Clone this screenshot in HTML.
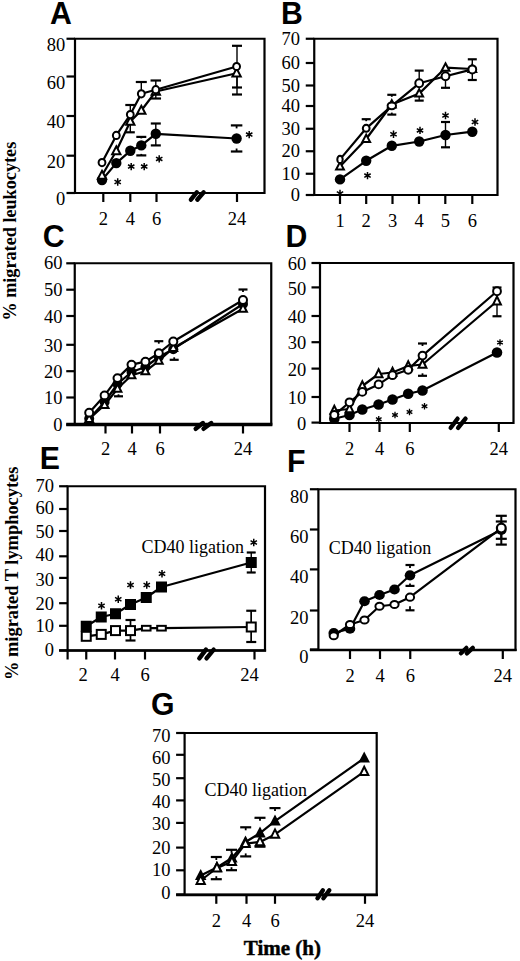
<!DOCTYPE html>
<html><head><meta charset="utf-8"><title>Figure</title>
<style>html,body{margin:0;padding:0;background:#fff;} svg{display:block;}</style></head>
<body><svg width="520" height="961" viewBox="0 0 520 961">
<rect width="520" height="961" fill="#fff"/>
<text transform="translate(50.10,23.70) scale(0.96,1)" font-family="&quot;Liberation Sans&quot;, sans-serif" font-size="31.5" font-weight="bold" text-anchor="start" >A</text>
<path d="M75.00,38.75 L264.50,38.75 L264.50,193.00 L75.00,193.00 Z" fill="none" stroke="#000" stroke-width="2.2"/>
<line x1="66.50" y1="38.75" x2="75.00" y2="38.75" stroke="#000" stroke-width="2.2"/>
<text x="65.30" y="51.15" font-family="&quot;Liberation Serif&quot;, serif" font-size="18.5" font-weight="normal" text-anchor="end" >80</text>
<line x1="66.50" y1="76.50" x2="75.00" y2="76.50" stroke="#000" stroke-width="2.2"/>
<text x="65.30" y="88.90" font-family="&quot;Liberation Serif&quot;, serif" font-size="18.5" font-weight="normal" text-anchor="end" >60</text>
<line x1="66.50" y1="116.00" x2="75.00" y2="116.00" stroke="#000" stroke-width="2.2"/>
<text x="65.30" y="128.40" font-family="&quot;Liberation Serif&quot;, serif" font-size="18.5" font-weight="normal" text-anchor="end" >40</text>
<line x1="66.50" y1="155.70" x2="75.00" y2="155.70" stroke="#000" stroke-width="2.2"/>
<text x="65.30" y="168.10" font-family="&quot;Liberation Serif&quot;, serif" font-size="18.5" font-weight="normal" text-anchor="end" >20</text>
<line x1="66.50" y1="193.00" x2="75.00" y2="193.00" stroke="#000" stroke-width="2.2"/>
<text x="65.30" y="205.40" font-family="&quot;Liberation Serif&quot;, serif" font-size="18.5" font-weight="normal" text-anchor="end" >0</text>
<line x1="103.30" y1="193.00" x2="103.30" y2="202.00" stroke="#000" stroke-width="2.2"/>
<text x="103.30" y="225.00" font-family="&quot;Liberation Serif&quot;, serif" font-size="18.5" font-weight="normal" text-anchor="middle" >2</text>
<line x1="130.30" y1="193.00" x2="130.30" y2="202.00" stroke="#000" stroke-width="2.2"/>
<text x="130.30" y="225.00" font-family="&quot;Liberation Serif&quot;, serif" font-size="18.5" font-weight="normal" text-anchor="middle" >4</text>
<line x1="156.50" y1="193.00" x2="156.50" y2="202.00" stroke="#000" stroke-width="2.2"/>
<text x="156.50" y="225.00" font-family="&quot;Liberation Serif&quot;, serif" font-size="18.5" font-weight="normal" text-anchor="middle" >6</text>
<line x1="237.00" y1="193.00" x2="237.00" y2="202.00" stroke="#000" stroke-width="2.2"/>
<text x="237.00" y="225.00" font-family="&quot;Liberation Serif&quot;, serif" font-size="18.5" font-weight="normal" text-anchor="middle" >24</text>
<line x1="190.90" y1="199.70" x2="196.78" y2="192.30" stroke="#000" stroke-width="4.4" stroke-linecap="round"/>
<line x1="197.30" y1="199.70" x2="203.70" y2="192.30" stroke="#000" stroke-width="4.4" stroke-linecap="round"/>
<line x1="130.30" y1="105.00" x2="130.30" y2="114.60" stroke="#000" stroke-width="1.4"/>
<line x1="125.30" y1="105.00" x2="135.30" y2="105.00" stroke="#000" stroke-width="2.2"/>
<line x1="141.30" y1="82.00" x2="141.30" y2="93.80" stroke="#000" stroke-width="1.4"/>
<line x1="135.80" y1="82.00" x2="146.80" y2="82.00" stroke="#000" stroke-width="2.2"/>
<line x1="155.80" y1="80.50" x2="155.80" y2="89.70" stroke="#000" stroke-width="1.4"/>
<line x1="150.55" y1="80.50" x2="161.05" y2="80.50" stroke="#000" stroke-width="2.2"/>
<line x1="155.80" y1="98.50" x2="155.80" y2="89.70" stroke="#000" stroke-width="1.4"/>
<line x1="150.55" y1="98.50" x2="161.05" y2="98.50" stroke="#000" stroke-width="2.2"/>
<line x1="130.30" y1="132.30" x2="130.30" y2="121.50" stroke="#000" stroke-width="1.4"/>
<line x1="125.80" y1="132.30" x2="134.80" y2="132.30" stroke="#000" stroke-width="2.2"/>
<line x1="237.00" y1="45.80" x2="237.00" y2="66.50" stroke="#000" stroke-width="1.4"/>
<line x1="232.00" y1="45.80" x2="242.00" y2="45.80" stroke="#000" stroke-width="2.2"/>
<line x1="237.00" y1="94.50" x2="237.00" y2="66.50" stroke="#000" stroke-width="1.4"/>
<line x1="232.00" y1="94.50" x2="242.00" y2="94.50" stroke="#000" stroke-width="2.2"/>
<line x1="237.00" y1="87.50" x2="237.00" y2="73.00" stroke="#000" stroke-width="1.4"/>
<line x1="232.00" y1="87.50" x2="242.00" y2="87.50" stroke="#000" stroke-width="2.2"/>
<line x1="141.30" y1="136.90" x2="141.30" y2="138.40" stroke="#000" stroke-width="1.8"/>
<line x1="136.30" y1="136.90" x2="146.30" y2="136.90" stroke="#000" stroke-width="2.2"/>
<line x1="141.30" y1="155.40" x2="141.30" y2="153.90" stroke="#000" stroke-width="1.8"/>
<line x1="136.30" y1="155.40" x2="146.30" y2="155.40" stroke="#000" stroke-width="2.2"/>
<line x1="155.80" y1="123.50" x2="155.80" y2="133.80" stroke="#000" stroke-width="1.4"/>
<line x1="150.80" y1="123.50" x2="160.80" y2="123.50" stroke="#000" stroke-width="2.2"/>
<line x1="155.80" y1="145.40" x2="155.80" y2="133.80" stroke="#000" stroke-width="1.4"/>
<line x1="150.80" y1="145.40" x2="160.80" y2="145.40" stroke="#000" stroke-width="2.2"/>
<line x1="236.60" y1="125.40" x2="236.60" y2="128.40" stroke="#000" stroke-width="1.8"/>
<line x1="230.85" y1="125.40" x2="242.35" y2="125.40" stroke="#000" stroke-width="2.2"/>
<line x1="236.60" y1="151.50" x2="236.60" y2="148.50" stroke="#000" stroke-width="1.8"/>
<line x1="230.85" y1="151.50" x2="242.35" y2="151.50" stroke="#000" stroke-width="2.2"/>
<polyline points="102.00,180.00 116.30,163.10 130.30,150.80 141.30,145.40 155.80,133.80 236.60,138.50" fill="none" stroke="#000" stroke-width="2.2" stroke-linejoin="round"/>
<polyline points="102.00,175.50 116.30,151.00 130.30,121.50 141.30,110.50 155.80,91.50 236.60,73.20" fill="none" stroke="#000" stroke-width="2.2" stroke-linejoin="round"/>
<polyline points="102.00,162.60 116.30,135.40 130.30,114.60 141.30,93.80 155.80,89.70 236.60,66.50" fill="none" stroke="#000" stroke-width="2.2" stroke-linejoin="round"/>
<ellipse cx="102.00" cy="180.00" rx="5.2" ry="5.2" fill="#000"/>
<ellipse cx="116.30" cy="163.10" rx="5.2" ry="5.2" fill="#000"/>
<ellipse cx="130.30" cy="150.80" rx="5.2" ry="5.2" fill="#000"/>
<ellipse cx="141.30" cy="145.40" rx="5.2" ry="5.2" fill="#000"/>
<ellipse cx="155.80" cy="133.80" rx="5.2" ry="5.2" fill="#000"/>
<ellipse cx="236.60" cy="138.50" rx="5.2" ry="5.2" fill="#000"/>
<path d="M102.00,170.80 L106.15,178.70 L97.85,178.70 Z" fill="#fff" stroke="#000" stroke-width="2" stroke-linejoin="miter"/>
<path d="M116.30,146.30 L120.45,154.20 L112.15,154.20 Z" fill="#fff" stroke="#000" stroke-width="2" stroke-linejoin="miter"/>
<path d="M130.30,116.80 L134.45,124.70 L126.15,124.70 Z" fill="#fff" stroke="#000" stroke-width="2" stroke-linejoin="miter"/>
<path d="M141.30,105.80 L145.45,113.70 L137.15,113.70 Z" fill="#fff" stroke="#000" stroke-width="2" stroke-linejoin="miter"/>
<path d="M155.80,86.80 L159.95,94.70 L151.65,94.70 Z" fill="#fff" stroke="#000" stroke-width="2" stroke-linejoin="miter"/>
<path d="M236.60,68.50 L240.75,76.40 L232.45,76.40 Z" fill="#fff" stroke="#000" stroke-width="2" stroke-linejoin="miter"/>
<ellipse cx="102.00" cy="162.60" rx="3.4" ry="3.6" fill="#fff" stroke="#000" stroke-width="2"/>
<ellipse cx="116.30" cy="135.40" rx="3.4" ry="3.6" fill="#fff" stroke="#000" stroke-width="2"/>
<ellipse cx="130.30" cy="114.60" rx="3.4" ry="3.6" fill="#fff" stroke="#000" stroke-width="2"/>
<ellipse cx="141.30" cy="93.80" rx="3.4" ry="3.6" fill="#fff" stroke="#000" stroke-width="2"/>
<ellipse cx="155.80" cy="89.70" rx="3.4" ry="3.6" fill="#fff" stroke="#000" stroke-width="2"/>
<ellipse cx="236.60" cy="66.50" rx="3.4" ry="3.6" fill="#fff" stroke="#000" stroke-width="2"/>
<path d="M117.70,185.70 L117.70,178.30 M114.50,183.85 L120.90,180.15 M114.50,180.15 L120.90,183.85 " stroke="#000" stroke-width="1.50" fill="none"/>
<path d="M131.20,170.30 L131.20,162.90 M128.00,168.45 L134.40,164.75 M128.00,164.75 L134.40,168.45 " stroke="#000" stroke-width="1.50" fill="none"/>
<path d="M144.20,170.30 L144.20,162.90 M141.00,168.45 L147.40,164.75 M141.00,164.75 L147.40,168.45 " stroke="#000" stroke-width="1.50" fill="none"/>
<path d="M159.20,162.60 L159.20,155.20 M156.00,160.75 L162.40,157.05 M156.00,157.05 L162.40,160.75 " stroke="#000" stroke-width="1.50" fill="none"/>
<path d="M249.20,138.30 L249.20,130.90 M246.00,136.45 L252.40,132.75 M246.00,132.75 L252.40,136.45 " stroke="#000" stroke-width="1.50" fill="none"/>
<text transform="translate(280.95,23.70) scale(0.96,1)" font-family="&quot;Liberation Sans&quot;, sans-serif" font-size="31.5" font-weight="bold" text-anchor="start" >B</text>
<path d="M314.25,38.75 L497.50,38.75 L497.50,195.00 L314.25,195.00 Z" fill="none" stroke="#000" stroke-width="2.2"/>
<line x1="305.75" y1="38.75" x2="314.25" y2="38.75" stroke="#000" stroke-width="2.2"/>
<text x="300.00" y="44.95" font-family="&quot;Liberation Serif&quot;, serif" font-size="18.5" font-weight="normal" text-anchor="end" >70</text>
<line x1="305.75" y1="63.00" x2="314.25" y2="63.00" stroke="#000" stroke-width="2.2"/>
<text x="300.00" y="69.20" font-family="&quot;Liberation Serif&quot;, serif" font-size="18.5" font-weight="normal" text-anchor="end" >60</text>
<line x1="305.75" y1="85.50" x2="314.25" y2="85.50" stroke="#000" stroke-width="2.2"/>
<text x="300.00" y="91.70" font-family="&quot;Liberation Serif&quot;, serif" font-size="18.5" font-weight="normal" text-anchor="end" >50</text>
<line x1="305.75" y1="106.00" x2="314.25" y2="106.00" stroke="#000" stroke-width="2.2"/>
<text x="300.00" y="112.20" font-family="&quot;Liberation Serif&quot;, serif" font-size="18.5" font-weight="normal" text-anchor="end" >40</text>
<line x1="305.75" y1="128.75" x2="314.25" y2="128.75" stroke="#000" stroke-width="2.2"/>
<text x="300.00" y="134.95" font-family="&quot;Liberation Serif&quot;, serif" font-size="18.5" font-weight="normal" text-anchor="end" >30</text>
<line x1="305.75" y1="151.25" x2="314.25" y2="151.25" stroke="#000" stroke-width="2.2"/>
<text x="300.00" y="157.45" font-family="&quot;Liberation Serif&quot;, serif" font-size="18.5" font-weight="normal" text-anchor="end" >20</text>
<line x1="305.75" y1="173.75" x2="314.25" y2="173.75" stroke="#000" stroke-width="2.2"/>
<text x="300.00" y="179.95" font-family="&quot;Liberation Serif&quot;, serif" font-size="18.5" font-weight="normal" text-anchor="end" >10</text>
<line x1="305.75" y1="195.00" x2="314.25" y2="195.00" stroke="#000" stroke-width="2.2"/>
<text x="300.00" y="201.20" font-family="&quot;Liberation Serif&quot;, serif" font-size="18.5" font-weight="normal" text-anchor="end" >0</text>
<line x1="340.00" y1="195.00" x2="340.00" y2="204.00" stroke="#000" stroke-width="2.2"/>
<text x="340.00" y="226.50" font-family="&quot;Liberation Serif&quot;, serif" font-size="18.5" font-weight="normal" text-anchor="middle" >1</text>
<line x1="366.20" y1="195.00" x2="366.20" y2="204.00" stroke="#000" stroke-width="2.2"/>
<text x="366.20" y="226.50" font-family="&quot;Liberation Serif&quot;, serif" font-size="18.5" font-weight="normal" text-anchor="middle" >2</text>
<line x1="392.50" y1="195.00" x2="392.50" y2="204.00" stroke="#000" stroke-width="2.2"/>
<text x="392.50" y="226.50" font-family="&quot;Liberation Serif&quot;, serif" font-size="18.5" font-weight="normal" text-anchor="middle" >3</text>
<line x1="419.00" y1="195.00" x2="419.00" y2="204.00" stroke="#000" stroke-width="2.2"/>
<text x="419.00" y="226.50" font-family="&quot;Liberation Serif&quot;, serif" font-size="18.5" font-weight="normal" text-anchor="middle" >4</text>
<line x1="445.30" y1="195.00" x2="445.30" y2="204.00" stroke="#000" stroke-width="2.2"/>
<text x="445.30" y="226.50" font-family="&quot;Liberation Serif&quot;, serif" font-size="18.5" font-weight="normal" text-anchor="middle" >5</text>
<line x1="472.30" y1="195.00" x2="472.30" y2="204.00" stroke="#000" stroke-width="2.2"/>
<text x="472.30" y="226.50" font-family="&quot;Liberation Serif&quot;, serif" font-size="18.5" font-weight="normal" text-anchor="middle" >6</text>
<line x1="366.20" y1="119.20" x2="366.20" y2="121.20" stroke="#000" stroke-width="1.8"/>
<line x1="361.70" y1="119.20" x2="370.70" y2="119.20" stroke="#000" stroke-width="2.2"/>
<line x1="391.80" y1="94.80" x2="391.80" y2="96.80" stroke="#000" stroke-width="1.8"/>
<line x1="387.30" y1="94.80" x2="396.30" y2="94.80" stroke="#000" stroke-width="2.2"/>
<line x1="391.80" y1="114.60" x2="391.80" y2="112.60" stroke="#000" stroke-width="1.8"/>
<line x1="387.30" y1="114.60" x2="396.30" y2="114.60" stroke="#000" stroke-width="2.2"/>
<line x1="419.20" y1="70.60" x2="419.20" y2="82.50" stroke="#000" stroke-width="1.4"/>
<line x1="414.70" y1="70.60" x2="423.70" y2="70.60" stroke="#000" stroke-width="2.2"/>
<line x1="419.20" y1="100.60" x2="419.20" y2="92.50" stroke="#000" stroke-width="1.4"/>
<line x1="414.70" y1="100.60" x2="423.70" y2="100.60" stroke="#000" stroke-width="2.2"/>
<line x1="445.50" y1="87.80" x2="445.50" y2="77.00" stroke="#000" stroke-width="1.4"/>
<line x1="441.00" y1="87.80" x2="450.00" y2="87.80" stroke="#000" stroke-width="2.2"/>
<line x1="472.30" y1="59.30" x2="472.30" y2="68.70" stroke="#000" stroke-width="1.4"/>
<line x1="467.80" y1="59.30" x2="476.80" y2="59.30" stroke="#000" stroke-width="2.2"/>
<line x1="472.30" y1="80.00" x2="472.30" y2="68.70" stroke="#000" stroke-width="1.4"/>
<line x1="467.80" y1="80.00" x2="476.80" y2="80.00" stroke="#000" stroke-width="2.2"/>
<line x1="445.50" y1="122.00" x2="445.50" y2="135.00" stroke="#000" stroke-width="1.4"/>
<line x1="441.00" y1="122.00" x2="450.00" y2="122.00" stroke="#000" stroke-width="2.2"/>
<line x1="445.50" y1="147.30" x2="445.50" y2="135.00" stroke="#000" stroke-width="1.4"/>
<line x1="441.00" y1="147.30" x2="450.00" y2="147.30" stroke="#000" stroke-width="2.2"/>
<polyline points="340.00,179.40 366.20,160.80 391.80,145.80 419.20,141.50 445.50,135.00 472.30,131.70" fill="none" stroke="#000" stroke-width="2.2" stroke-linejoin="round"/>
<polyline points="340.00,166.50 366.20,139.00 391.80,104.50 419.20,93.60 445.50,67.70 472.30,69.00" fill="none" stroke="#000" stroke-width="2.2" stroke-linejoin="round"/>
<polyline points="340.00,159.40 366.20,128.30 391.80,105.80 419.20,83.30 445.50,76.30 472.30,69.40" fill="none" stroke="#000" stroke-width="2.2" stroke-linejoin="round"/>
<ellipse cx="340.00" cy="179.40" rx="5.2" ry="5.2" fill="#000"/>
<ellipse cx="366.20" cy="160.80" rx="5.2" ry="5.2" fill="#000"/>
<ellipse cx="391.80" cy="145.80" rx="5.2" ry="5.2" fill="#000"/>
<ellipse cx="419.20" cy="141.50" rx="5.2" ry="5.2" fill="#000"/>
<ellipse cx="445.50" cy="135.00" rx="5.2" ry="5.2" fill="#000"/>
<ellipse cx="472.30" cy="131.70" rx="5.2" ry="5.2" fill="#000"/>
<path d="M340.00,162.10 L343.90,169.50 L336.10,169.50 Z" fill="#fff" stroke="#000" stroke-width="2" stroke-linejoin="miter"/>
<path d="M366.20,134.60 L370.10,142.00 L362.30,142.00 Z" fill="#fff" stroke="#000" stroke-width="2" stroke-linejoin="miter"/>
<path d="M391.80,100.10 L395.70,107.50 L387.90,107.50 Z" fill="#fff" stroke="#000" stroke-width="2" stroke-linejoin="miter"/>
<path d="M419.20,89.20 L423.10,96.60 L415.30,96.60 Z" fill="#fff" stroke="#000" stroke-width="2" stroke-linejoin="miter"/>
<path d="M445.50,63.30 L449.40,70.70 L441.60,70.70 Z" fill="#fff" stroke="#000" stroke-width="2" stroke-linejoin="miter"/>
<path d="M472.30,64.60 L476.20,72.00 L468.40,72.00 Z" fill="#fff" stroke="#000" stroke-width="2" stroke-linejoin="miter"/>
<ellipse cx="340.00" cy="159.40" rx="2.7" ry="3.7" fill="#fff" stroke="#000" stroke-width="2"/>
<ellipse cx="366.20" cy="128.30" rx="3.4" ry="3.5" fill="#fff" stroke="#000" stroke-width="2"/>
<ellipse cx="391.80" cy="105.80" rx="4.2" ry="3.4" fill="#fff" stroke="#000" stroke-width="2"/>
<ellipse cx="419.20" cy="83.30" rx="3.9" ry="4.0" fill="#fff" stroke="#000" stroke-width="2"/>
<ellipse cx="445.50" cy="76.30" rx="3.9" ry="4.0" fill="#fff" stroke="#000" stroke-width="2"/>
<ellipse cx="472.30" cy="69.40" rx="3.9" ry="4.0" fill="#fff" stroke="#000" stroke-width="2"/>
<path d="M340.00,197.20 L340.00,189.80 M336.80,195.35 L343.20,191.65 M336.80,191.65 L343.20,195.35 " stroke="#000" stroke-width="1.50" fill="none"/>
<path d="M367.50,179.30 L367.50,171.90 M364.30,177.45 L370.70,173.75 M364.30,173.75 L370.70,177.45 " stroke="#000" stroke-width="1.50" fill="none"/>
<path d="M393.50,137.90 L393.50,130.50 M390.30,136.05 L396.70,132.35 M390.30,132.35 L396.70,136.05 " stroke="#000" stroke-width="1.50" fill="none"/>
<path d="M420.00,134.10 L420.00,126.70 M416.80,132.25 L423.20,128.55 M416.80,128.55 L423.20,132.25 " stroke="#000" stroke-width="1.50" fill="none"/>
<path d="M445.50,119.20 L445.50,111.80 M442.30,117.35 L448.70,113.65 M442.30,113.65 L448.70,117.35 " stroke="#000" stroke-width="1.50" fill="none"/>
<path d="M475.00,125.70 L475.00,118.30 M471.80,123.85 L478.20,120.15 M471.80,120.15 L478.20,123.85 " stroke="#000" stroke-width="1.50" fill="none"/>
<text transform="translate(42.85,247.10) scale(0.96,1)" font-family="&quot;Liberation Sans&quot;, sans-serif" font-size="31.5" font-weight="bold" text-anchor="start" >C</text>
<path d="M74.75,263.25 L271.25,263.25 L271.25,424.50 L74.75,424.50 Z" fill="none" stroke="#000" stroke-width="2.2"/>
<line x1="66.25" y1="424.50" x2="272.35" y2="424.50" stroke="#000" stroke-width="3.6"/>
<line x1="66.25" y1="263.30" x2="74.75" y2="263.30" stroke="#000" stroke-width="2.2"/>
<text x="62.50" y="269.20" font-family="&quot;Liberation Serif&quot;, serif" font-size="18.5" font-weight="normal" text-anchor="end" >60</text>
<line x1="66.25" y1="289.70" x2="74.75" y2="289.70" stroke="#000" stroke-width="2.2"/>
<text x="62.50" y="296.30" font-family="&quot;Liberation Serif&quot;, serif" font-size="18.5" font-weight="normal" text-anchor="end" >50</text>
<line x1="66.25" y1="316.00" x2="74.75" y2="316.00" stroke="#000" stroke-width="2.2"/>
<text x="62.50" y="322.60" font-family="&quot;Liberation Serif&quot;, serif" font-size="18.5" font-weight="normal" text-anchor="end" >40</text>
<line x1="66.25" y1="344.80" x2="74.75" y2="344.80" stroke="#000" stroke-width="2.2"/>
<text x="62.50" y="351.60" font-family="&quot;Liberation Serif&quot;, serif" font-size="18.5" font-weight="normal" text-anchor="end" >30</text>
<line x1="66.25" y1="371.20" x2="74.75" y2="371.20" stroke="#000" stroke-width="2.2"/>
<text x="62.50" y="377.80" font-family="&quot;Liberation Serif&quot;, serif" font-size="18.5" font-weight="normal" text-anchor="end" >20</text>
<line x1="66.25" y1="397.50" x2="74.75" y2="397.50" stroke="#000" stroke-width="2.2"/>
<text x="62.50" y="403.90" font-family="&quot;Liberation Serif&quot;, serif" font-size="18.5" font-weight="normal" text-anchor="end" >10</text>
<line x1="66.25" y1="424.60" x2="74.75" y2="424.60" stroke="#000" stroke-width="2.2"/>
<text x="62.50" y="431.20" font-family="&quot;Liberation Serif&quot;, serif" font-size="18.5" font-weight="normal" text-anchor="end" >0</text>
<line x1="105.50" y1="424.50" x2="105.50" y2="433.50" stroke="#000" stroke-width="2.2"/>
<text x="105.50" y="455.00" font-family="&quot;Liberation Serif&quot;, serif" font-size="18.5" font-weight="normal" text-anchor="middle" >2</text>
<line x1="132.00" y1="424.50" x2="132.00" y2="433.50" stroke="#000" stroke-width="2.2"/>
<text x="132.00" y="455.00" font-family="&quot;Liberation Serif&quot;, serif" font-size="18.5" font-weight="normal" text-anchor="middle" >4</text>
<line x1="160.00" y1="424.50" x2="160.00" y2="433.50" stroke="#000" stroke-width="2.2"/>
<text x="160.00" y="455.00" font-family="&quot;Liberation Serif&quot;, serif" font-size="18.5" font-weight="normal" text-anchor="middle" >6</text>
<line x1="243.00" y1="424.50" x2="243.00" y2="433.50" stroke="#000" stroke-width="2.2"/>
<text x="243.00" y="455.00" font-family="&quot;Liberation Serif&quot;, serif" font-size="18.5" font-weight="normal" text-anchor="middle" >24</text>
<line x1="195.70" y1="428.80" x2="202.90" y2="423.00" stroke="#000" stroke-width="4.4" stroke-linecap="round"/>
<line x1="203.50" y1="428.80" x2="211.30" y2="423.00" stroke="#000" stroke-width="4.4" stroke-linecap="round"/>
<line x1="118.50" y1="396.30" x2="118.50" y2="394.30" stroke="#000" stroke-width="1.8"/>
<line x1="114.00" y1="396.30" x2="123.00" y2="396.30" stroke="#000" stroke-width="2.2"/>
<line x1="158.80" y1="341.20" x2="158.80" y2="343.70" stroke="#000" stroke-width="1.8"/>
<line x1="154.30" y1="341.20" x2="163.30" y2="341.20" stroke="#000" stroke-width="2.2"/>
<line x1="174.20" y1="359.80" x2="174.20" y2="357.30" stroke="#000" stroke-width="1.8"/>
<line x1="169.70" y1="359.80" x2="178.70" y2="359.80" stroke="#000" stroke-width="2.2"/>
<line x1="243.00" y1="289.50" x2="243.00" y2="292.00" stroke="#000" stroke-width="1.8"/>
<line x1="238.50" y1="289.50" x2="247.50" y2="289.50" stroke="#000" stroke-width="2.2"/>
<polyline points="89.20,418.80 104.60,402.00 117.50,384.00 131.50,372.00 145.40,367.00 158.80,357.00 173.30,349.20 243.00,304.00" fill="none" stroke="#000" stroke-width="2.2" stroke-linejoin="round"/>
<polyline points="89.20,419.00 104.60,405.00 117.50,388.70 131.50,375.20 145.40,371.30 158.80,360.80 173.30,348.00 243.00,308.70" fill="none" stroke="#000" stroke-width="2.2" stroke-linejoin="round"/>
<polyline points="89.20,412.70 104.60,395.40 117.50,378.10 131.50,364.60 145.40,361.70 158.80,353.10 173.30,341.50 243.00,300.00" fill="none" stroke="#000" stroke-width="2.2" stroke-linejoin="round"/>
<ellipse cx="89.20" cy="418.80" rx="5.0" ry="5.0" fill="#000"/>
<ellipse cx="104.60" cy="402.00" rx="5.0" ry="5.0" fill="#000"/>
<ellipse cx="117.50" cy="384.00" rx="5.0" ry="5.0" fill="#000"/>
<ellipse cx="131.50" cy="372.00" rx="5.0" ry="5.0" fill="#000"/>
<ellipse cx="145.40" cy="367.00" rx="5.0" ry="5.0" fill="#000"/>
<ellipse cx="158.80" cy="357.00" rx="5.0" ry="5.0" fill="#000"/>
<ellipse cx="173.30" cy="349.20" rx="5.0" ry="5.0" fill="#000"/>
<ellipse cx="243.00" cy="304.00" rx="5.0" ry="5.0" fill="#000"/>
<path d="M89.20,414.60 L93.10,422.00 L85.30,422.00 Z" fill="#fff" stroke="#000" stroke-width="2" stroke-linejoin="miter"/>
<path d="M104.60,400.60 L108.50,408.00 L100.70,408.00 Z" fill="#fff" stroke="#000" stroke-width="2" stroke-linejoin="miter"/>
<path d="M117.50,384.30 L121.40,391.70 L113.60,391.70 Z" fill="#fff" stroke="#000" stroke-width="2" stroke-linejoin="miter"/>
<path d="M131.50,370.80 L135.40,378.20 L127.60,378.20 Z" fill="#fff" stroke="#000" stroke-width="2" stroke-linejoin="miter"/>
<path d="M145.40,366.90 L149.30,374.30 L141.50,374.30 Z" fill="#fff" stroke="#000" stroke-width="2" stroke-linejoin="miter"/>
<path d="M158.80,356.40 L162.70,363.80 L154.90,363.80 Z" fill="#fff" stroke="#000" stroke-width="2" stroke-linejoin="miter"/>
<path d="M173.30,343.60 L177.20,351.00 L169.40,351.00 Z" fill="#fff" stroke="#000" stroke-width="2" stroke-linejoin="miter"/>
<path d="M243.00,304.30 L246.90,311.70 L239.10,311.70 Z" fill="#fff" stroke="#000" stroke-width="2" stroke-linejoin="miter"/>
<ellipse cx="89.20" cy="412.70" rx="4.0" ry="3.9" fill="#fff" stroke="#000" stroke-width="2"/>
<ellipse cx="104.60" cy="395.40" rx="4.0" ry="3.9" fill="#fff" stroke="#000" stroke-width="2"/>
<ellipse cx="117.50" cy="378.10" rx="4.0" ry="3.9" fill="#fff" stroke="#000" stroke-width="2"/>
<ellipse cx="131.50" cy="364.60" rx="4.0" ry="3.9" fill="#fff" stroke="#000" stroke-width="2"/>
<ellipse cx="145.40" cy="361.70" rx="4.0" ry="3.9" fill="#fff" stroke="#000" stroke-width="2"/>
<ellipse cx="158.80" cy="353.10" rx="4.0" ry="3.9" fill="#fff" stroke="#000" stroke-width="2"/>
<ellipse cx="173.30" cy="341.50" rx="4.0" ry="3.9" fill="#fff" stroke="#000" stroke-width="2"/>
<ellipse cx="243.00" cy="300.00" rx="4.0" ry="3.9" fill="#fff" stroke="#000" stroke-width="2"/>
<text transform="translate(285.55,247.00) scale(0.96,1)" font-family="&quot;Liberation Sans&quot;, sans-serif" font-size="31.5" font-weight="bold" text-anchor="start" >D</text>
<path d="M320.00,263.00 L513.50,263.00 L513.50,423.00 L320.00,423.00 Z" fill="none" stroke="#000" stroke-width="2.2"/>
<line x1="311.50" y1="263.00" x2="320.00" y2="263.00" stroke="#000" stroke-width="2.2"/>
<text x="306.20" y="269.60" font-family="&quot;Liberation Serif&quot;, serif" font-size="18.5" font-weight="normal" text-anchor="end" >60</text>
<line x1="311.50" y1="287.40" x2="320.00" y2="287.40" stroke="#000" stroke-width="2.2"/>
<text x="306.20" y="295.40" font-family="&quot;Liberation Serif&quot;, serif" font-size="18.5" font-weight="normal" text-anchor="end" >50</text>
<line x1="311.50" y1="316.00" x2="320.00" y2="316.00" stroke="#000" stroke-width="2.2"/>
<text x="306.20" y="323.00" font-family="&quot;Liberation Serif&quot;, serif" font-size="18.5" font-weight="normal" text-anchor="end" >40</text>
<line x1="311.50" y1="342.20" x2="320.00" y2="342.20" stroke="#000" stroke-width="2.2"/>
<text x="306.20" y="349.20" font-family="&quot;Liberation Serif&quot;, serif" font-size="18.5" font-weight="normal" text-anchor="end" >30</text>
<line x1="311.50" y1="368.60" x2="320.00" y2="368.60" stroke="#000" stroke-width="2.2"/>
<text x="306.20" y="376.40" font-family="&quot;Liberation Serif&quot;, serif" font-size="18.5" font-weight="normal" text-anchor="end" >20</text>
<line x1="311.50" y1="397.00" x2="320.00" y2="397.00" stroke="#000" stroke-width="2.2"/>
<text x="306.20" y="404.40" font-family="&quot;Liberation Serif&quot;, serif" font-size="18.5" font-weight="normal" text-anchor="end" >10</text>
<line x1="311.50" y1="422.60" x2="320.00" y2="422.60" stroke="#000" stroke-width="2.2"/>
<text x="306.20" y="429.70" font-family="&quot;Liberation Serif&quot;, serif" font-size="18.5" font-weight="normal" text-anchor="end" >0</text>
<line x1="349.50" y1="423.00" x2="349.50" y2="432.00" stroke="#000" stroke-width="2.2"/>
<text x="349.50" y="454.50" font-family="&quot;Liberation Serif&quot;, serif" font-size="18.5" font-weight="normal" text-anchor="middle" >2</text>
<line x1="379.50" y1="423.00" x2="379.50" y2="432.00" stroke="#000" stroke-width="2.2"/>
<text x="379.50" y="454.50" font-family="&quot;Liberation Serif&quot;, serif" font-size="18.5" font-weight="normal" text-anchor="middle" >4</text>
<line x1="409.80" y1="423.00" x2="409.80" y2="432.00" stroke="#000" stroke-width="2.2"/>
<text x="409.80" y="454.50" font-family="&quot;Liberation Serif&quot;, serif" font-size="18.5" font-weight="normal" text-anchor="middle" >6</text>
<line x1="498.80" y1="423.00" x2="498.80" y2="432.00" stroke="#000" stroke-width="2.2"/>
<text x="498.80" y="454.50" font-family="&quot;Liberation Serif&quot;, serif" font-size="18.5" font-weight="normal" text-anchor="middle" >24</text>
<line x1="450.70" y1="427.80" x2="457.52" y2="418.70" stroke="#000" stroke-width="4.4" stroke-linecap="round"/>
<line x1="458.10" y1="427.80" x2="465.50" y2="418.70" stroke="#000" stroke-width="4.4" stroke-linecap="round"/>
<line x1="422.50" y1="343.50" x2="422.50" y2="346.00" stroke="#000" stroke-width="1.8"/>
<line x1="418.00" y1="343.50" x2="427.00" y2="343.50" stroke="#000" stroke-width="2.2"/>
<line x1="422.50" y1="375.80" x2="422.50" y2="373.30" stroke="#000" stroke-width="1.8"/>
<line x1="418.00" y1="375.80" x2="427.00" y2="375.80" stroke="#000" stroke-width="2.2"/>
<line x1="497.00" y1="287.50" x2="497.00" y2="291.00" stroke="#000" stroke-width="1.4"/>
<line x1="492.50" y1="287.50" x2="501.50" y2="287.50" stroke="#000" stroke-width="2.2"/>
<line x1="497.00" y1="316.25" x2="497.00" y2="301.00" stroke="#000" stroke-width="1.4"/>
<line x1="492.50" y1="316.25" x2="501.50" y2="316.25" stroke="#000" stroke-width="2.2"/>
<polyline points="334.30,418.75 349.50,415.00 362.30,409.50 378.60,404.50 392.50,399.50 408.20,393.75 422.50,390.50 497.00,352.50" fill="none" stroke="#000" stroke-width="2.2" stroke-linejoin="round"/>
<polyline points="334.30,410.50 349.50,409.00 362.30,386.00 378.60,374.00 392.50,372.50 408.20,366.00 422.50,364.50 497.00,301.25" fill="none" stroke="#000" stroke-width="2.2" stroke-linejoin="round"/>
<polyline points="334.30,415.00 349.50,402.30 362.30,391.90 378.60,384.40 392.50,375.20 408.20,369.80 422.50,355.60 497.00,291.25" fill="none" stroke="#000" stroke-width="2.2" stroke-linejoin="round"/>
<ellipse cx="334.30" cy="418.75" rx="5.3" ry="5.3" fill="#000"/>
<ellipse cx="349.50" cy="415.00" rx="5.3" ry="5.3" fill="#000"/>
<ellipse cx="362.30" cy="409.50" rx="5.3" ry="5.3" fill="#000"/>
<ellipse cx="378.60" cy="404.50" rx="5.3" ry="5.3" fill="#000"/>
<ellipse cx="392.50" cy="399.50" rx="5.3" ry="5.3" fill="#000"/>
<ellipse cx="408.20" cy="393.75" rx="5.3" ry="5.3" fill="#000"/>
<ellipse cx="422.50" cy="390.50" rx="5.3" ry="5.3" fill="#000"/>
<ellipse cx="497.00" cy="352.50" rx="5.3" ry="5.3" fill="#000"/>
<path d="M334.30,405.80 L338.20,413.70 L330.40,413.70 Z" fill="#fff" stroke="#000" stroke-width="2" stroke-linejoin="miter"/>
<path d="M349.50,404.30 L353.40,412.20 L345.60,412.20 Z" fill="#fff" stroke="#000" stroke-width="2" stroke-linejoin="miter"/>
<path d="M362.30,381.30 L366.20,389.20 L358.40,389.20 Z" fill="#fff" stroke="#000" stroke-width="2" stroke-linejoin="miter"/>
<path d="M378.60,369.30 L382.50,377.20 L374.70,377.20 Z" fill="#fff" stroke="#000" stroke-width="2" stroke-linejoin="miter"/>
<path d="M392.50,367.80 L396.40,375.70 L388.60,375.70 Z" fill="#fff" stroke="#000" stroke-width="2" stroke-linejoin="miter"/>
<path d="M408.20,361.30 L412.10,369.20 L404.30,369.20 Z" fill="#fff" stroke="#000" stroke-width="2" stroke-linejoin="miter"/>
<path d="M422.50,359.80 L426.40,367.70 L418.60,367.70 Z" fill="#fff" stroke="#000" stroke-width="2" stroke-linejoin="miter"/>
<path d="M497.00,296.55 L500.90,304.45 L493.10,304.45 Z" fill="#fff" stroke="#000" stroke-width="2" stroke-linejoin="miter"/>
<ellipse cx="334.30" cy="415.00" rx="3.9" ry="3.9" fill="#fff" stroke="#000" stroke-width="2"/>
<ellipse cx="349.50" cy="402.30" rx="3.9" ry="3.9" fill="#fff" stroke="#000" stroke-width="2"/>
<ellipse cx="362.30" cy="391.90" rx="3.9" ry="3.9" fill="#fff" stroke="#000" stroke-width="2"/>
<ellipse cx="378.60" cy="384.40" rx="3.9" ry="3.9" fill="#fff" stroke="#000" stroke-width="2"/>
<ellipse cx="392.50" cy="375.20" rx="3.9" ry="3.9" fill="#fff" stroke="#000" stroke-width="2"/>
<ellipse cx="408.20" cy="369.80" rx="3.9" ry="3.9" fill="#fff" stroke="#000" stroke-width="2"/>
<ellipse cx="422.50" cy="355.60" rx="3.9" ry="3.9" fill="#fff" stroke="#000" stroke-width="2"/>
<ellipse cx="497.00" cy="291.25" rx="3.9" ry="3.9" fill="#fff" stroke="#000" stroke-width="2"/>
<path d="M378.75,422.51 L378.75,415.99 M375.92,420.88 L381.58,417.62 M375.92,417.62 L381.58,420.88 " stroke="#000" stroke-width="1.32" fill="none"/>
<path d="M395.00,418.26 L395.00,411.74 M392.17,416.63 L397.83,413.37 M392.17,413.37 L397.83,416.63 " stroke="#000" stroke-width="1.32" fill="none"/>
<path d="M409.50,415.26 L409.50,408.74 M406.67,413.63 L412.33,410.37 M406.67,410.37 L412.33,413.63 " stroke="#000" stroke-width="1.32" fill="none"/>
<path d="M424.50,409.51 L424.50,402.99 M421.67,407.88 L427.33,404.62 M421.67,404.62 L427.33,407.88 " stroke="#000" stroke-width="1.32" fill="none"/>
<path d="M500.00,345.76 L500.00,339.24 M497.17,344.13 L502.83,340.87 M497.17,340.87 L502.83,344.13 " stroke="#000" stroke-width="1.32" fill="none"/>
<text transform="translate(39.65,469.30) scale(0.96,1)" font-family="&quot;Liberation Sans&quot;, sans-serif" font-size="31.5" font-weight="bold" text-anchor="start" >E</text>
<path d="M67.60,486.25 L265.00,486.25 L265.00,650.50 L67.60,650.50 Z" fill="none" stroke="#000" stroke-width="2.2"/>
<line x1="59.10" y1="650.50" x2="266.10" y2="650.50" stroke="#000" stroke-width="2.6"/>
<line x1="59.10" y1="486.25" x2="67.60" y2="486.25" stroke="#000" stroke-width="2.2"/>
<text x="54.00" y="491.70" font-family="&quot;Liberation Serif&quot;, serif" font-size="18.5" font-weight="normal" text-anchor="end" >70</text>
<line x1="59.10" y1="509.00" x2="67.60" y2="509.00" stroke="#000" stroke-width="2.2"/>
<text x="54.00" y="513.80" font-family="&quot;Liberation Serif&quot;, serif" font-size="18.5" font-weight="normal" text-anchor="end" >60</text>
<line x1="59.10" y1="531.00" x2="67.60" y2="531.00" stroke="#000" stroke-width="2.2"/>
<text x="54.00" y="537.70" font-family="&quot;Liberation Serif&quot;, serif" font-size="18.5" font-weight="normal" text-anchor="end" >50</text>
<line x1="59.10" y1="556.30" x2="67.60" y2="556.30" stroke="#000" stroke-width="2.2"/>
<text x="54.00" y="561.10" font-family="&quot;Liberation Serif&quot;, serif" font-size="18.5" font-weight="normal" text-anchor="end" >40</text>
<line x1="59.10" y1="577.90" x2="67.60" y2="577.90" stroke="#000" stroke-width="2.2"/>
<text x="54.00" y="585.50" font-family="&quot;Liberation Serif&quot;, serif" font-size="18.5" font-weight="normal" text-anchor="end" >30</text>
<line x1="59.10" y1="603.20" x2="67.60" y2="603.20" stroke="#000" stroke-width="2.2"/>
<text x="54.00" y="609.80" font-family="&quot;Liberation Serif&quot;, serif" font-size="18.5" font-weight="normal" text-anchor="end" >20</text>
<line x1="59.10" y1="625.80" x2="67.60" y2="625.80" stroke="#000" stroke-width="2.2"/>
<text x="54.00" y="632.20" font-family="&quot;Liberation Serif&quot;, serif" font-size="18.5" font-weight="normal" text-anchor="end" >10</text>
<line x1="59.10" y1="650.40" x2="67.60" y2="650.40" stroke="#000" stroke-width="2.2"/>
<text x="54.00" y="656.20" font-family="&quot;Liberation Serif&quot;, serif" font-size="18.5" font-weight="normal" text-anchor="end" >0</text>
<line x1="67.60" y1="650.50" x2="67.60" y2="659.50" stroke="#000" stroke-width="2.2"/>
<text x="67.60" y="681.00" font-family="&quot;Liberation Serif&quot;, serif" font-size="18.5" font-weight="normal" text-anchor="middle" ></text>
<line x1="86.25" y1="650.50" x2="86.25" y2="659.50" stroke="#000" stroke-width="2.2"/>
<text x="83.00" y="681.00" font-family="&quot;Liberation Serif&quot;, serif" font-size="18.5" font-weight="normal" text-anchor="middle" >2</text>
<line x1="115.00" y1="650.50" x2="115.00" y2="659.50" stroke="#000" stroke-width="2.2"/>
<text x="115.00" y="681.00" font-family="&quot;Liberation Serif&quot;, serif" font-size="18.5" font-weight="normal" text-anchor="middle" >4</text>
<line x1="145.00" y1="650.50" x2="145.00" y2="659.50" stroke="#000" stroke-width="2.2"/>
<text x="145.00" y="681.00" font-family="&quot;Liberation Serif&quot;, serif" font-size="18.5" font-weight="normal" text-anchor="middle" >6</text>
<line x1="254.50" y1="650.50" x2="254.50" y2="659.50" stroke="#000" stroke-width="2.2"/>
<text x="249.40" y="681.00" font-family="&quot;Liberation Serif&quot;, serif" font-size="18.5" font-weight="normal" text-anchor="middle" >24</text>
<line x1="199.30" y1="658.30" x2="205.94" y2="649.60" stroke="#000" stroke-width="4.4" stroke-linecap="round"/>
<line x1="206.50" y1="658.30" x2="213.70" y2="649.60" stroke="#000" stroke-width="4.4" stroke-linecap="round"/>
<line x1="130.50" y1="620.00" x2="130.50" y2="640.50" stroke="#000" stroke-width="1.4"/>
<line x1="125.50" y1="620.00" x2="135.50" y2="620.00" stroke="#000" stroke-width="2.2"/>
<line x1="130.50" y1="640.50" x2="130.50" y2="620.00" stroke="#000" stroke-width="1.4"/>
<line x1="125.50" y1="640.50" x2="135.50" y2="640.50" stroke="#000" stroke-width="2.2"/>
<line x1="251.25" y1="552.50" x2="251.25" y2="562.50" stroke="#000" stroke-width="1.4"/>
<line x1="246.75" y1="552.50" x2="255.75" y2="552.50" stroke="#000" stroke-width="2.2"/>
<line x1="251.25" y1="572.50" x2="251.25" y2="562.50" stroke="#000" stroke-width="1.4"/>
<line x1="246.75" y1="572.50" x2="255.75" y2="572.50" stroke="#000" stroke-width="2.2"/>
<line x1="251.25" y1="610.75" x2="251.25" y2="642.00" stroke="#000" stroke-width="1.4"/>
<line x1="246.25" y1="610.75" x2="256.25" y2="610.75" stroke="#000" stroke-width="2.2"/>
<line x1="251.25" y1="642.00" x2="251.25" y2="610.75" stroke="#000" stroke-width="1.4"/>
<line x1="246.25" y1="642.00" x2="256.25" y2="642.00" stroke="#000" stroke-width="2.2"/>
<polyline points="86.25,626.25 101.25,617.00 115.50,613.75 130.50,604.50 146.25,597.50 161.50,587.00 251.25,562.50" fill="none" stroke="#000" stroke-width="2.2" stroke-linejoin="round"/>
<polyline points="86.25,636.30 101.25,634.40 115.50,630.60 130.50,630.60 146.25,628.20 161.50,628.20 251.25,627.00" fill="none" stroke="#000" stroke-width="2.2" stroke-linejoin="round"/>
<rect x="80.75" y="620.75" width="11" height="11" fill="#000"/>
<rect x="95.75" y="611.50" width="11" height="11" fill="#000"/>
<rect x="110.00" y="608.25" width="11" height="11" fill="#000"/>
<rect x="125.00" y="599.00" width="11" height="11" fill="#000"/>
<rect x="140.75" y="592.00" width="11" height="11" fill="#000"/>
<rect x="156.00" y="581.50" width="11" height="11" fill="#000"/>
<rect x="245.75" y="557.00" width="11" height="11" fill="#000"/>
<rect x="81.75" y="631.80" width="9" height="9" fill="#fff" stroke="#000" stroke-width="2"/>
<rect x="96.75" y="629.90" width="9" height="9" fill="#fff" stroke="#000" stroke-width="2"/>
<rect x="111.00" y="626.10" width="9" height="9" fill="#fff" stroke="#000" stroke-width="2"/>
<rect x="126.00" y="626.10" width="9" height="9" fill="#fff" stroke="#000" stroke-width="2"/>
<rect x="141.95" y="625.85" width="8.6" height="4.7" fill="#fff" stroke="#000" stroke-width="2"/>
<rect x="157.20" y="625.85" width="8.6" height="4.7" fill="#fff" stroke="#000" stroke-width="2"/>
<rect x="246.75" y="622.50" width="9" height="9" fill="#fff" stroke="#000" stroke-width="2"/>
<path d="M101.50,609.45 L101.50,602.05 M98.30,607.60 L104.70,603.90 M98.30,603.90 L104.70,607.60 " stroke="#000" stroke-width="1.50" fill="none"/>
<path d="M118.25,602.95 L118.25,595.55 M115.05,601.10 L121.45,597.40 M115.05,597.40 L121.45,601.10 " stroke="#000" stroke-width="1.50" fill="none"/>
<path d="M130.50,588.70 L130.50,581.30 M127.30,586.85 L133.70,583.15 M127.30,583.15 L133.70,586.85 " stroke="#000" stroke-width="1.50" fill="none"/>
<path d="M146.75,588.70 L146.75,581.30 M143.55,586.85 L149.95,583.15 M143.55,583.15 L149.95,586.85 " stroke="#000" stroke-width="1.50" fill="none"/>
<path d="M162.00,577.45 L162.00,570.05 M158.80,575.60 L165.20,571.90 M158.80,571.90 L165.20,575.60 " stroke="#000" stroke-width="1.50" fill="none"/>
<path d="M253.75,546.20 L253.75,538.80 M250.55,544.35 L256.95,540.65 M250.55,540.65 L256.95,544.35 " stroke="#000" stroke-width="1.50" fill="none"/>
<text x="141.50" y="553.00" font-family="&quot;Liberation Serif&quot;, serif" font-size="18" font-weight="normal" text-anchor="start" >CD40 ligation</text>
<text transform="translate(286.95,472.30) scale(0.96,1)" font-family="&quot;Liberation Sans&quot;, sans-serif" font-size="31.5" font-weight="bold" text-anchor="start" >F</text>
<path d="M318.40,489.25 L515.50,489.25 L515.50,650.00 L318.40,650.00 Z" fill="none" stroke="#000" stroke-width="2.2"/>
<line x1="309.90" y1="650.00" x2="516.60" y2="650.00" stroke="#000" stroke-width="2.6"/>
<line x1="309.90" y1="489.25" x2="318.40" y2="489.25" stroke="#000" stroke-width="2.2"/>
<text x="308.50" y="502.75" font-family="&quot;Liberation Serif&quot;, serif" font-size="18.5" font-weight="normal" text-anchor="end" >80</text>
<line x1="309.90" y1="529.50" x2="318.40" y2="529.50" stroke="#000" stroke-width="2.2"/>
<text x="308.50" y="543.00" font-family="&quot;Liberation Serif&quot;, serif" font-size="18.5" font-weight="normal" text-anchor="end" >60</text>
<line x1="309.90" y1="569.40" x2="318.40" y2="569.40" stroke="#000" stroke-width="2.2"/>
<text x="308.50" y="582.90" font-family="&quot;Liberation Serif&quot;, serif" font-size="18.5" font-weight="normal" text-anchor="end" >40</text>
<line x1="309.90" y1="610.50" x2="318.40" y2="610.50" stroke="#000" stroke-width="2.2"/>
<text x="308.50" y="624.00" font-family="&quot;Liberation Serif&quot;, serif" font-size="18.5" font-weight="normal" text-anchor="end" >20</text>
<line x1="309.90" y1="649.50" x2="318.40" y2="649.50" stroke="#000" stroke-width="2.2"/>
<text x="308.50" y="663.00" font-family="&quot;Liberation Serif&quot;, serif" font-size="18.5" font-weight="normal" text-anchor="end" >0</text>
<line x1="350.00" y1="650.00" x2="350.00" y2="659.00" stroke="#000" stroke-width="2.2"/>
<text x="350.00" y="681.50" font-family="&quot;Liberation Serif&quot;, serif" font-size="18.5" font-weight="normal" text-anchor="middle" >2</text>
<line x1="380.00" y1="650.00" x2="380.00" y2="659.00" stroke="#000" stroke-width="2.2"/>
<text x="380.00" y="681.50" font-family="&quot;Liberation Serif&quot;, serif" font-size="18.5" font-weight="normal" text-anchor="middle" >4</text>
<line x1="410.25" y1="650.00" x2="410.25" y2="659.00" stroke="#000" stroke-width="2.2"/>
<text x="410.25" y="681.50" font-family="&quot;Liberation Serif&quot;, serif" font-size="18.5" font-weight="normal" text-anchor="middle" >6</text>
<line x1="502.80" y1="650.00" x2="502.80" y2="659.00" stroke="#000" stroke-width="2.2"/>
<text x="502.80" y="681.50" font-family="&quot;Liberation Serif&quot;, serif" font-size="18.5" font-weight="normal" text-anchor="middle" >24</text>
<line x1="460.95" y1="653.30" x2="466.39" y2="647.95" stroke="#000" stroke-width="4.4" stroke-linecap="round"/>
<line x1="466.88" y1="653.30" x2="472.80" y2="647.95" stroke="#000" stroke-width="4.4" stroke-linecap="round"/>
<line x1="410.00" y1="565.00" x2="410.00" y2="568.00" stroke="#000" stroke-width="1.8"/>
<line x1="405.50" y1="565.00" x2="414.50" y2="565.00" stroke="#000" stroke-width="2.2"/>
<line x1="410.00" y1="585.90" x2="410.00" y2="583.40" stroke="#000" stroke-width="1.8"/>
<line x1="405.50" y1="585.90" x2="414.50" y2="585.90" stroke="#000" stroke-width="2.2"/>
<line x1="410.00" y1="610.30" x2="410.00" y2="606.30" stroke="#000" stroke-width="1.8"/>
<line x1="405.50" y1="610.30" x2="414.50" y2="610.30" stroke="#000" stroke-width="2.2"/>
<line x1="501.30" y1="515.80" x2="501.30" y2="528.50" stroke="#000" stroke-width="2"/>
<line x1="495.80" y1="515.80" x2="506.80" y2="515.80" stroke="#000" stroke-width="2.2"/>
<line x1="501.30" y1="521.50" x2="501.30" y2="528.50" stroke="#000" stroke-width="2"/>
<line x1="495.80" y1="521.50" x2="506.80" y2="521.50" stroke="#000" stroke-width="2.2"/>
<line x1="501.30" y1="538.80" x2="501.30" y2="528.50" stroke="#000" stroke-width="2"/>
<line x1="495.80" y1="538.80" x2="506.80" y2="538.80" stroke="#000" stroke-width="2.2"/>
<line x1="501.30" y1="544.60" x2="501.30" y2="528.50" stroke="#000" stroke-width="2"/>
<line x1="495.80" y1="544.60" x2="506.80" y2="544.60" stroke="#000" stroke-width="2.2"/>
<polyline points="333.75,633.00 350.00,628.75 364.50,601.25 379.50,595.00 394.50,589.50 410.00,575.30 501.30,530.00" fill="none" stroke="#000" stroke-width="2.2" stroke-linejoin="round"/>
<polyline points="333.75,635.75 350.00,624.50 364.50,620.00 379.50,606.25 394.50,604.50 410.00,597.20 501.30,528.10" fill="none" stroke="#000" stroke-width="2.2" stroke-linejoin="round"/>
<ellipse cx="333.75" cy="633.00" rx="5.3" ry="5.1" fill="#000"/>
<ellipse cx="350.00" cy="628.75" rx="5.3" ry="5.1" fill="#000"/>
<ellipse cx="364.50" cy="601.25" rx="5.3" ry="5.1" fill="#000"/>
<ellipse cx="379.50" cy="595.00" rx="5.3" ry="5.1" fill="#000"/>
<ellipse cx="394.50" cy="589.50" rx="5.3" ry="5.1" fill="#000"/>
<ellipse cx="410.00" cy="575.30" rx="5.3" ry="5.1" fill="#000"/>
<ellipse cx="501.30" cy="530.00" rx="5.3" ry="5.1" fill="#000"/>
<ellipse cx="333.75" cy="635.75" rx="4.1" ry="3.6" fill="#fff" stroke="#000" stroke-width="2"/>
<ellipse cx="350.00" cy="624.50" rx="4.1" ry="3.6" fill="#fff" stroke="#000" stroke-width="2"/>
<ellipse cx="364.50" cy="620.00" rx="4.1" ry="3.6" fill="#fff" stroke="#000" stroke-width="2"/>
<ellipse cx="379.50" cy="606.25" rx="4.1" ry="3.6" fill="#fff" stroke="#000" stroke-width="2"/>
<ellipse cx="394.50" cy="604.50" rx="4.1" ry="3.6" fill="#fff" stroke="#000" stroke-width="2"/>
<ellipse cx="410.00" cy="597.20" rx="4.1" ry="3.6" fill="#fff" stroke="#000" stroke-width="2"/>
<ellipse cx="501.3" cy="528.1" rx="4.4" ry="4.4" fill="#fff" stroke="#000" stroke-width="2.2"/>
<text x="328.75" y="553.75" font-family="&quot;Liberation Serif&quot;, serif" font-size="18" font-weight="normal" text-anchor="start" >CD40 ligation</text>
<text transform="translate(150.95,714.90) scale(0.96,1)" font-family="&quot;Liberation Sans&quot;, sans-serif" font-size="31.5" font-weight="bold" text-anchor="start" >G</text>
<path d="M184.60,733.00 L376.70,733.00 L376.70,894.80 L184.60,894.80 Z" fill="none" stroke="#000" stroke-width="2.2"/>
<line x1="176.10" y1="894.80" x2="377.80" y2="894.80" stroke="#000" stroke-width="2.7"/>
<line x1="176.10" y1="733.00" x2="184.60" y2="733.00" stroke="#000" stroke-width="2.2"/>
<text x="170.50" y="742.00" font-family="&quot;Liberation Serif&quot;, serif" font-size="18.5" font-weight="normal" text-anchor="end" >70</text>
<line x1="176.10" y1="754.80" x2="184.60" y2="754.80" stroke="#000" stroke-width="2.2"/>
<text x="170.50" y="764.00" font-family="&quot;Liberation Serif&quot;, serif" font-size="18.5" font-weight="normal" text-anchor="end" >60</text>
<line x1="176.10" y1="778.20" x2="184.60" y2="778.20" stroke="#000" stroke-width="2.2"/>
<text x="170.50" y="785.90" font-family="&quot;Liberation Serif&quot;, serif" font-size="18.5" font-weight="normal" text-anchor="end" >50</text>
<line x1="176.10" y1="800.40" x2="184.60" y2="800.40" stroke="#000" stroke-width="2.2"/>
<text x="170.50" y="808.20" font-family="&quot;Liberation Serif&quot;, serif" font-size="18.5" font-weight="normal" text-anchor="end" >40</text>
<line x1="176.10" y1="822.90" x2="184.60" y2="822.90" stroke="#000" stroke-width="2.2"/>
<text x="170.50" y="830.40" font-family="&quot;Liberation Serif&quot;, serif" font-size="18.5" font-weight="normal" text-anchor="end" >30</text>
<line x1="176.10" y1="847.60" x2="184.60" y2="847.60" stroke="#000" stroke-width="2.2"/>
<text x="170.50" y="853.90" font-family="&quot;Liberation Serif&quot;, serif" font-size="18.5" font-weight="normal" text-anchor="end" >20</text>
<line x1="176.10" y1="870.30" x2="184.60" y2="870.30" stroke="#000" stroke-width="2.2"/>
<text x="170.50" y="876.30" font-family="&quot;Liberation Serif&quot;, serif" font-size="18.5" font-weight="normal" text-anchor="end" >10</text>
<line x1="176.10" y1="894.50" x2="184.60" y2="894.50" stroke="#000" stroke-width="2.2"/>
<text x="170.50" y="899.30" font-family="&quot;Liberation Serif&quot;, serif" font-size="18.5" font-weight="normal" text-anchor="end" >0</text>
<line x1="216.30" y1="894.80" x2="216.30" y2="903.80" stroke="#000" stroke-width="2.2"/>
<text x="216.30" y="926.80" font-family="&quot;Liberation Serif&quot;, serif" font-size="18.5" font-weight="normal" text-anchor="middle" >2</text>
<line x1="246.50" y1="894.80" x2="246.50" y2="903.80" stroke="#000" stroke-width="2.2"/>
<text x="246.50" y="926.80" font-family="&quot;Liberation Serif&quot;, serif" font-size="18.5" font-weight="normal" text-anchor="middle" >4</text>
<line x1="275.00" y1="894.80" x2="275.00" y2="903.80" stroke="#000" stroke-width="2.2"/>
<text x="275.00" y="926.80" font-family="&quot;Liberation Serif&quot;, serif" font-size="18.5" font-weight="normal" text-anchor="middle" >6</text>
<line x1="365.00" y1="894.80" x2="365.00" y2="903.80" stroke="#000" stroke-width="2.2"/>
<text x="365.00" y="926.80" font-family="&quot;Liberation Serif&quot;, serif" font-size="18.5" font-weight="normal" text-anchor="middle" >24</text>
<line x1="317.50" y1="898.20" x2="322.91" y2="890.20" stroke="#000" stroke-width="4.4" stroke-linecap="round"/>
<line x1="323.40" y1="898.20" x2="329.30" y2="890.20" stroke="#000" stroke-width="4.4" stroke-linecap="round"/>
<line x1="216.30" y1="857.00" x2="216.30" y2="860.00" stroke="#000" stroke-width="1.8"/>
<line x1="210.80" y1="857.00" x2="221.80" y2="857.00" stroke="#000" stroke-width="2.2"/>
<line x1="216.30" y1="879.20" x2="216.30" y2="876.20" stroke="#000" stroke-width="1.8"/>
<line x1="210.80" y1="879.20" x2="221.80" y2="879.20" stroke="#000" stroke-width="2.2"/>
<line x1="231.50" y1="849.80" x2="231.50" y2="852.80" stroke="#000" stroke-width="1.8"/>
<line x1="226.00" y1="849.80" x2="237.00" y2="849.80" stroke="#000" stroke-width="2.2"/>
<line x1="231.50" y1="870.20" x2="231.50" y2="867.20" stroke="#000" stroke-width="1.8"/>
<line x1="226.00" y1="870.20" x2="237.00" y2="870.20" stroke="#000" stroke-width="2.2"/>
<line x1="245.70" y1="827.30" x2="245.70" y2="830.30" stroke="#000" stroke-width="1.8"/>
<line x1="240.20" y1="827.30" x2="251.20" y2="827.30" stroke="#000" stroke-width="2.2"/>
<line x1="245.70" y1="856.40" x2="245.70" y2="853.40" stroke="#000" stroke-width="1.8"/>
<line x1="240.20" y1="856.40" x2="251.20" y2="856.40" stroke="#000" stroke-width="2.2"/>
<line x1="260.00" y1="817.80" x2="260.00" y2="820.80" stroke="#000" stroke-width="1.8"/>
<line x1="254.50" y1="817.80" x2="265.50" y2="817.80" stroke="#000" stroke-width="2.2"/>
<line x1="260.00" y1="846.70" x2="260.00" y2="843.70" stroke="#000" stroke-width="1.8"/>
<line x1="254.50" y1="846.70" x2="265.50" y2="846.70" stroke="#000" stroke-width="2.2"/>
<line x1="275.00" y1="808.10" x2="275.00" y2="811.10" stroke="#000" stroke-width="1.8"/>
<line x1="269.50" y1="808.10" x2="280.50" y2="808.10" stroke="#000" stroke-width="2.2"/>
<polyline points="200.70,875.60 216.90,867.50 231.90,858.00 245.50,842.00 260.00,833.20 275.00,821.20 364.20,758.20" fill="none" stroke="#000" stroke-width="2.2" stroke-linejoin="round"/>
<polyline points="200.70,880.50 216.90,868.00 231.90,861.70 245.50,843.70 260.00,841.90 275.00,834.40 364.20,771.70" fill="none" stroke="#000" stroke-width="2.2" stroke-linejoin="round"/>
<path d="M200.70,869.00 L206.45,880.00 L194.95,880.00 Z" fill="#000"/>
<path d="M216.90,860.90 L222.65,871.90 L211.15,871.90 Z" fill="#000"/>
<path d="M231.90,851.40 L237.65,862.40 L226.15,862.40 Z" fill="#000"/>
<path d="M245.50,835.40 L251.25,846.40 L239.75,846.40 Z" fill="#000"/>
<path d="M260.00,826.60 L265.75,837.60 L254.25,837.60 Z" fill="#000"/>
<path d="M275.00,814.60 L280.75,825.60 L269.25,825.60 Z" fill="#000"/>
<path d="M364.20,751.60 L369.95,762.60 L358.45,762.60 Z" fill="#000"/>
<path d="M200.70,875.50 L204.85,883.90 L196.55,883.90 Z" fill="#fff" stroke="#000" stroke-width="2" stroke-linejoin="miter"/>
<path d="M216.90,863.00 L221.05,871.40 L212.75,871.40 Z" fill="#fff" stroke="#000" stroke-width="2" stroke-linejoin="miter"/>
<path d="M231.90,856.70 L236.05,865.10 L227.75,865.10 Z" fill="#fff" stroke="#000" stroke-width="2" stroke-linejoin="miter"/>
<path d="M245.50,838.70 L249.65,847.10 L241.35,847.10 Z" fill="#fff" stroke="#000" stroke-width="2" stroke-linejoin="miter"/>
<path d="M260.00,836.90 L264.15,845.30 L255.85,845.30 Z" fill="#fff" stroke="#000" stroke-width="2" stroke-linejoin="miter"/>
<path d="M275.00,829.40 L279.15,837.80 L270.85,837.80 Z" fill="#fff" stroke="#000" stroke-width="2" stroke-linejoin="miter"/>
<path d="M364.20,766.70 L368.35,775.10 L360.05,775.10 Z" fill="#fff" stroke="#000" stroke-width="2" stroke-linejoin="miter"/>
<text x="204.50" y="796.25" font-family="&quot;Liberation Serif&quot;, serif" font-size="18" font-weight="normal" text-anchor="start" >CD40 ligation</text>
<text x="282.40" y="954.60" font-family="&quot;Liberation Serif&quot;, serif" font-size="21" font-weight="bold" text-anchor="middle" stroke="#000" stroke-width="0.45">Time (h)</text>
<text x="0.00" y="0.00" font-family="&quot;Liberation Serif&quot;, serif" font-size="18.2" font-weight="bold" text-anchor="middle" transform="translate(16.2,231.2) rotate(-90)">% migrated leukocytes</text>
<text x="0.00" y="0.00" font-family="&quot;Liberation Serif&quot;, serif" font-size="18.4" font-weight="bold" text-anchor="middle" transform="translate(18.0,573.3) rotate(-90)">% migrated T lymphocytes</text>
</svg></body></html>
